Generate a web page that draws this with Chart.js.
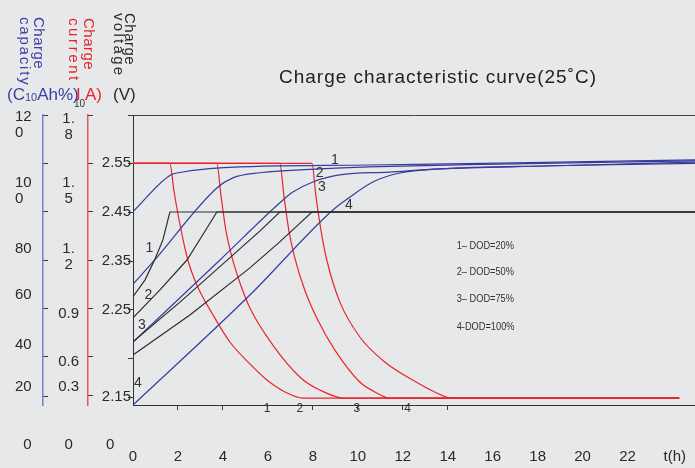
<!DOCTYPE html>
<html>
<head>
<meta charset="utf-8">
<title>Charge characteristic curve</title>
<script src="https://cdn.jsdelivr.net/npm/chart.js@4.4.1/dist/chart.umd.min.js"></script>
<style>
  html, body { margin: 0; padding: 0; background: #e7e8ea; }
  canvas { display: block; }
</style>
</head>
<body>
<canvas id="chargeChart" width="695" height="468"></canvas>
<script>
// time axis (hours)
const hourTicks = [0, 2, 4, 6, 8, 10, 12, 14, 16, 18, 20, 22];
const markedHours = [2, 4, 6, 8, 10, 12, 14];
const timeUnit = 't(h)';
const timeUnitAt = 24.1;

// left axes: tick marks, and the labels the source prints beside them (axis units)
const capacityMarks = [120, 100, 80, 60, 40, 20, 3.7];
const capacityLabels = [['12', '0'], ['10', '0'], '80', '60', '40', '20', '\u20070'];
const capacityLabelAt = [116, 88.6, 64.6, 45.5, 25, 7.4, -16.6];

const currentMarks = [1.8, 1.5, 1.2, 0.9, 0.6, 0.3, 0.056];
const currentLabels = [['1.', '8'], ['1.', '5'], ['1.', '2'], '0.9', '0.6', '0.3', '0'];
const currentLabelAt = [1.726, 1.328, 0.919, 0.565, 0.267, 0.112, -0.248];

const voltageMarks = [2.648, 2.55, 2.45, 2.35, 2.25, 2.15, 2.072];
const voltageMarkLabels = ['', '2.55', '2.45', '2.35', '2.25', '', '2.15'];
const voltageLabels = ['0\u2007\u2007'];
const voltageLabelAt = [1.974];

// curves, [hours, value]; 1..4 = DOD 20 / 50 / 75 / 100 %
const capacity1 = [[0, 80], [1.64, 95], [2.22, 96.4], [3.87, 98.1], [10.5, 99.3], [16.3, 100.1], [25, 101.4]];
const capacity2 = [[0, 50], [0.89, 59.2], [3.73, 89.8], [4.44, 94], [5.64, 96.1], [8.31, 97.7], [10.5, 98.5], [16.3, 99.7], [25, 101]];
const capacity3 = [[0, 26], [3.87, 60], [6.67, 84.8], [7.11, 88.1], [8.0, 92.3], [9.2, 95.2], [11.4, 96.4], [13.6, 97.7], [18.5, 98.9], [25, 100.5]];
const capacity4 = [[0, 0], [5.2, 45.5], [8.89, 80.7], [9.64, 86], [10.67, 92.3], [11.87, 96], [13.64, 97.7], [18.5, 99], [25, 100]];

const current1 = [[0, 1.5], [1.64, 1.5], [1.82, 1.33], [2.09, 1.12], [2.44, 0.9], [2.84, 0.745], [3.56, 0.559], [4.31, 0.391], [5.2, 0.255], [5.96, 0.155], [6.76, 0.081], [7.56, 0.043], [24.3, 0.043]];
const current2 = [[0, 1.5], [3.73, 1.5], [3.91, 1.304], [4.13, 1.086], [4.4, 0.919], [4.76, 0.757], [5.2, 0.602], [6.22, 0.372], [7.47, 0.168], [8.31, 0.093], [9.38, 0.043], [24.3, 0.043]];
const current3 = [[0, 1.5], [6.53, 1.5], [6.71, 1.304], [6.93, 1.086], [7.2, 0.912], [7.64, 0.714], [8.22, 0.527], [8.98, 0.341], [10.09, 0.143], [10.76, 0.081], [11.42, 0.043], [24.3, 0.043]];
const current4 = [[0, 1.5], [7.96, 1.5], [8.13, 1.304], [8.36, 1.086], [8.62, 0.9], [9.2, 0.64], [10.09, 0.422], [11.2, 0.267], [12.44, 0.155], [13.42, 0.081], [14.18, 0.043], [24.3, 0.043]];

const voltage1 = [[0, 2.277], [0.53, 2.311], [0.98, 2.354], [1.33, 2.393], [1.64, 2.45], [25, 2.45]];
const voltage2 = [[0, 2.234], [1.2, 2.291], [2.4, 2.352], [3.07, 2.401], [3.73, 2.45], [25, 2.45]];
const voltage3 = [[0, 2.185], [2.09, 2.266], [4.44, 2.362], [5.64, 2.411], [6.53, 2.45], [25, 2.45]];
const voltage4 = [[0, 2.158], [2.53, 2.24], [5.2, 2.336], [6.53, 2.389], [7.96, 2.45], [25, 2.45]];

// curve numbers as placed in the source
const capacityTags = [[8.98, 101.5], [8.3, 95.8], [8.4, 90], [9.6, 82.6]];
const voltageTags = [[0.73, 2.377], [0.69, 2.28], [0.4, 2.219], [0.22, 2.101]];
const currentTagHours = [5.96, 7.42, 9.96, 12.22];
const currentTagAt = -0.025;
const dodLabels = ['1\u2013 DOD=20%', '2\u2013 DOD=50%', '3\u2013 DOD=75%', '4-DOD=100%'];
const dodLabelHour = 14.4;
const dodLabelVolt = [2.381, 2.328, 2.272, 2.215];

const chartTitle = 'Charge characteristic curve(25\u02DAC)';

const BLUE = '#383c9c';
const RED = '#e8252c';
const DARK = '#2e2e2e';
const TEXT = '#2a2a2a';
const FONT = '"Liberation Sans", Arial, sans-serif';

function pts(list) {
    return list.map(p => ({ x: p[0], y: p[1] }));
}

function line(data, axis, color, smooth) {
    let ds = {
        data: pts(data),
        yAxisID: axis,
        borderColor: color,
        borderWidth: 1.2,
        pointRadius: 0,
        fill: false,
        tension: 0
    };
    if (smooth) ds.cubicInterpolationMode = 'monotone';
    return ds;
}

// ticks = tick marks + label-only ticks (the source's labels sit off the marks)
function leftTicks(marks, markText, labelAt, labelText) {
    return function(scale) {
        let list = marks.map((v, i) => ({ value: v, mark: true, text: markText ? markText[i] : '' }));
        labelAt.forEach((v, i) => list.push({ value: v, mark: false, text: labelText[i] }));
        list.sort((a, b) => a.value - b.value);
        scale.ticks = list;
    };
}

function leftAxis(opts) {
    return Object.assign({
        axis: 'y',
        position: 'left',
        bounds: 'data',
        ticks: {
            autoSkip: false,
            color: TEXT,
            font: { family: FONT, size: 15, lineHeight: 1.05 },
            callback: (v, i, ticks) => ticks[i].text
        },
        grid: {
            drawOnChartArea: false,
            tickLength: -5,
            tickColor: ctx => ctx.tick && ctx.tick.mark ? '#3a3a3a' : 'rgba(0,0,0,0)'
        }
    }, opts);
}

function fixWidth(w) {
    return function(scale) {
        scale.width = w;
        scale.paddingTop = 0;
        scale.paddingBottom = 0;
    };
}

const capAxis = leftAxis({ weight: 2, min: 0, max: 120,
    afterBuildTicks: leftTicks(capacityMarks, null, capacityLabelAt, capacityLabels),
    afterFit: fixWidth(28),
    border: { color: '#7a7fc6', width: 1.5 } });
capAxis.ticks.crossAlign = 'far';

const curAxis = leftAxis({ weight: 1, min: 0, max: 1.8,
    afterBuildTicks: leftTicks(currentMarks, null, currentLabelAt, currentLabels),
    afterFit: fixWidth(45),
    border: { color: '#e4585c', width: 1.5 } });
curAxis.ticks.crossAlign = 'center';
curAxis.ticks.padding = 14;

const voltAxis = leftAxis({ weight: 0, min: 2.0561, max: 2.648,
    afterBuildTicks: leftTicks(voltageMarks, voltageMarkLabels, voltageLabelAt, voltageLabels),
    afterFit: fixWidth(45),
    border: { color: '#333', width: 1 } });
voltAxis.ticks.crossAlign = 'near';
voltAxis.ticks.padding = -3;
voltAxis.grid.tickLength = 5;

// axis names, units and title
const headings = {
    id: 'headings',
    afterDraw(chart) {
        const ctx = chart.ctx;
        ctx.save();
        ctx.fillStyle = '#222';
        ctx.font = '19px ' + FONT;
        ctx.textAlign = 'center';
        ctx.textBaseline = 'middle';
        ctx.letterSpacing = '1px';
        ctx.fillText(chartTitle, 438, 78);

        function vtext(text, x, y, color, spacing) {
            ctx.save();
            ctx.translate(x, y);
            ctx.rotate(Math.PI / 2);
            ctx.textAlign = 'left';
            ctx.textBaseline = 'alphabetic';
            ctx.fillStyle = color;
            ctx.letterSpacing = spacing;
            ctx.fillText(text, 0, 0);
            ctx.restore();
        }
        ctx.font = '15px ' + FONT;
        vtext('Charge', 34, 17, '#3b40a8', '0.5px');
        vtext('capacity', 20, 17, '#3b40a8', '1.8px');
        vtext('Charge', 84, 18, RED, '0.5px');
        vtext('current', 69, 18, RED, '2.6px');
        vtext('Charge', 125, 13, TEXT, '0.5px');
        vtext('voltage', 114, 13, TEXT, '2.3px');

        // units row
        ctx.letterSpacing = '0px';
        ctx.textAlign = 'left';
        let x = 7;
        function piece(text, size, color, y) {
            ctx.font = size + 'px ' + FONT;
            ctx.fillStyle = color;
            ctx.fillText(text, x, y);
            x += ctx.measureText(text).width;
        }
        piece('(C', 17, '#3b40a8', 95);
        piece('10', 11, '#3b40a8', 98);
        piece('Ah%)', 17, '#3b40a8', 95);
        x = 76;
        piece('I', 17, RED, 95);
        x = 74;
        piece('10', 10, '#333', 104);
        x = 85;
        piece('A)', 17, RED, 95);
        x = 113;
        piece('(V)', 17, TEXT, 95);
        ctx.restore();
    }
};

// curve numbers and DOD key
const notes = {
    id: 'notes',
    afterDatasetsDraw(chart) {
        const { ctx, scales } = chart;
        const x = scales.x;
        ctx.save();
        ctx.fillStyle = '#333';
        ctx.textAlign = 'center';
        ctx.textBaseline = 'middle';
        ctx.font = '14px ' + FONT;
        capacityTags.forEach((p, i) => ctx.fillText(String(i + 1), x.getPixelForValue(p[0]), scales.cap.getPixelForValue(p[1])));
        voltageTags.forEach((p, i) => ctx.fillText(String(i + 1), x.getPixelForValue(p[0]), scales.volt.getPixelForValue(p[1])));
        ctx.font = '12px ' + FONT;
        currentTagHours.forEach((t, i) => ctx.fillText(String(i + 1), x.getPixelForValue(t), scales.cur.getPixelForValue(currentTagAt)));
        // narrow lettering of the key
        ctx.font = '11px ' + FONT;
        ctx.textAlign = 'left';
        dodLabels.forEach((s, i) => {
            ctx.save();
            ctx.translate(x.getPixelForValue(dodLabelHour), scales.volt.getPixelForValue(dodLabelVolt[i]));
            ctx.scale(0.84, 1);
            ctx.fillText(s, 0, 0);
            ctx.restore();
        });
        ctx.restore();
    }
};

const ctx = document.getElementById('chargeChart').getContext('2d');
const chargeChart = new Chart(ctx, {
    type: 'line',
    data: {
        datasets: [
            line(voltage1, 'volt', DARK, false),
            line(voltage2, 'volt', DARK, false),
            line(voltage3, 'volt', DARK, false),
            line(voltage4, 'volt', DARK, false),
            line(capacity1, 'cap', BLUE, true),
            line(capacity2, 'cap', BLUE, true),
            line(capacity3, 'cap', BLUE, true),
            line(capacity4, 'cap', BLUE, true),
            line(current1, 'cur', RED, true),
            line(current2, 'cur', RED, true),
            line(current3, 'cur', RED, true),
            line(current4, 'cur', RED, true)
        ]
    },
    options: {
        responsive: false,
        animation: false,
        layout: { padding: { top: 115, left: 15, right: 0, bottom: 0 } },
        plugins: {
            legend: { display: false },
            tooltip: { enabled: false },
            title: { display: false }
        },
        scales: {
            x: {
                type: 'linear',
                axis: 'x',
                position: 'bottom',
                min: 0,
                max: 25,
                bounds: 'data',
                afterBuildTicks: scale => {
                    scale.ticks = hourTicks.map(h => ({ value: h, text: String(h) }))
                        .concat([{ value: timeUnitAt, text: timeUnit }]);
                },
                afterFit: scale => {
                    scale.height = 63;
                    scale.paddingLeft = 0;
                    scale.paddingRight = 0;
                },
                ticks: {
                    autoSkip: false,
                    maxRotation: 0,
                    padding: 38,
                    color: TEXT,
                    font: { family: FONT, size: 15 },
                    callback: (v, i, ticks) => ticks[i].text
                },
                grid: {
                    drawOnChartArea: false,
                    tickLength: 5,
                    tickColor: c => c.tick && markedHours.includes(c.tick.value) ? '#3a3a3a' : 'rgba(0,0,0,0)'
                },
                border: { color: '#333', width: 1 }
            },
            xTop: {
                type: 'linear',
                axis: 'x',
                position: 'top',
                min: 0,
                max: 25,
                ticks: { display: false },
                grid: { display: false, drawTicks: false },
                border: { color: '#444', width: 1 },
                afterFit: scale => { scale.height = 0; }
            },
            cap: capAxis,
            cur: curAxis,
            volt: voltAxis
        }
    },
    plugins: [headings, notes]
});
</script>
</body>
</html>
